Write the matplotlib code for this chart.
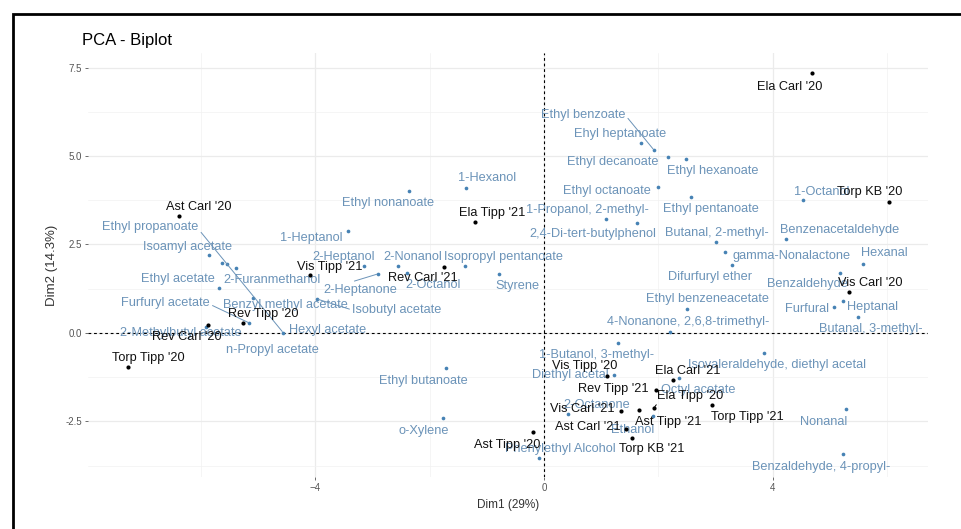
import matplotlib
matplotlib.use("Agg")
import matplotlib.pyplot as plt
from matplotlib.patches import Rectangle

plt.rcParams['font.family'] = ['Liberation Sans', 'DejaVu Sans']

# individuals (wine samples)
ind_names = ["Ela Carl '20", "Torp KB '20", "Vis Carl '20", "Ast Carl '20", "Vis Tipp '21",
             "Rev Tipp '20", "Rev Carl '20", "Torp Tipp '20", "Ela Tipp '21", "Rev Carl '21",
             "Vis Tipp '20", "Rev Tipp '21", "Ela Carl '21", "Ela Tipp '20", "Vis Carl '21",
             "Ast Tipp '21", "Ast Carl '21", "Torp KB '21", "Ast Tipp '20", "Torp Tipp '21"]
ind_x = [4.68, 6.03, 5.33, -6.38, -4.09, -5.26, -5.87, -7.27, -1.21, -1.75,
         1.10, 1.96, 2.25, 1.92, 1.34, 1.66, 1.43, 1.54, -0.19, 2.93]
ind_y = [7.34, 3.70, 1.16, 3.31, 1.64, 0.28, 0.23, -0.96, 3.14, 1.86,
         -1.21, -1.61, -1.33, -2.12, -2.20, -2.18, -2.71, -2.97, -2.80, -2.03]

# variables (volatile compounds)
var_names = ["Ethyl propanoate", "Isoamyl acetate", "Ethyl acetate", "2-Furanmethanol",
             "Furfuryl acetate", "Benzyl methyl acetate", "2-Methylbutyl acetate",
             "n-Propyl acetate", "Hexyl acetate", "Isobutyl acetate",
             "Ethyl nonanoate", "1-Hexanol", "1-Heptanol", "2-Heptanol", "2-Nonanol",
             "2-Heptanone", "2-Octanol", "Isopropyl pentanoate", "Styrene",
             "Ethyl butanoate", "o-Xylene", "Ethyl benzoate", "Ehyl heptanoate",
             "Ethyl decanoate", "Ethyl hexanoate", "Ethyl octanoate", "Ethyl pentanoate",
             "1-Propanol, 2-methyl-", "2,4-Di-tert-butylphenol", "Butanal, 2-methyl-",
             "gamma-Nonalactone", "Difurfuryl ether", "1-Octanol", "Benzenacetaldehyde",
             "Hexanal", "Benzaldehyde", "Furfural", "Heptanal", "Butanal, 3-methyl-",
             "Ethyl benzeneacetate", "4-Nonanone, 2,6,8-trimethyl-",
             "Isovaleraldehyde, diethyl acetal", "Nonanal", "Benzaldehyde, 4-propyl-",
             "1-Butanol, 3-methyl-", "Diethyl acetal", "Octyl acetate", "2-Octanone",
             "Ethanol", "Phenylethyl Alcohol"]
var_x = [-4.56, -5.85, -5.68, -5.38, -5.15, -5.08, -5.90, -5.54, -5.62, -3.97,
         -2.36, -1.36, -3.42, -3.14, -2.55, -2.90, -2.39, -1.38, -0.79,
         -1.71, -1.76, 1.92, 1.69, 2.17, 2.48, 1.99, 2.57,
         1.08, 1.62, 3.00, 3.16, 3.28, 4.52, 4.23,
         5.57, 5.17, 5.07, 5.22, 5.48, 2.50, 2.20,
         3.84, 5.28, 5.22, 1.29, 1.22, 2.36, 0.42, 1.90, -0.09]
var_y = [0.01, 2.20, 1.27, 1.84, 0.28, 0.99, 0.17, 1.95, 1.98, 0.96,
         4.01, 4.10, 2.88, 1.89, 1.89, 1.67, 1.69, 1.89, 1.67,
         -0.99, -2.40, 5.17, 5.37, 4.97, 4.92, 4.12, 3.84,
         3.22, 3.11, 2.57, 2.29, 1.92, 3.76, 2.66,
         1.95, 1.69, 0.73, 0.90, 0.45, 0.68, 0.03,
         -0.56, -2.15, -3.42, -0.28, -1.19, -1.27, -2.29, -2.34, -3.53]

# label placement in pixels from each point (what ggrepel did)
ind_offsets = [(-22, -14), (-19, 10), (21, 9), (20, 9), (20, 8),
               (20, 9), (-21, -12), (20, 9), (17, 9), (-21, -11),
               (-22, 10), (-43, 1), (15, 9), (36, 12), (-38, 2),
               (29, -12), (-38, 2), (20, -11), (-26, -13), (36, -12)]
var_offsets = [(-133, 106), (-22, 8), (-41, 9), (36, -12), (-84, 20), (32, -7), (-26, -6),
               (45, -86), (105, -67), (80, -11),
               (-21, -12), (21, 10), (-37, -7), (-21, 9), (15, 9),
               (-18, -16), (26, -12), (38, 9), (19, -12),
               (-23, -13), (-20, -13), (-71, 35), (-21, 9), (-55, -5), (27, -12), (-51, -4), (20, -12),
               (-18, 9), (-44, -11), (1, 9), (67, -4), (-22, -12), (19, 8), (54, 9),
               (22, 11), (-32, -11), (-27, -2), (30, -6), (13, -12), (20, 10), (18, 10),
               (13, -12), (-23, -13), (-22, -13), (-21, -12), (-44, 0), (19, -12), (29, 9),
               (-20, -14), (21, 9)]
# segment start on the label box (relative position), for labels pushed far away
var_leaders = {"Ethyl propanoate": (1, 0.3), "Furfuryl acetate": (1, 0.4),
               "Isobutyl acetate": (0, 0.5), "2-Heptanone": (0.3, 1),
               "Ethyl benzoate": (1, 0.5)}
ind_leaders = {"Ela Tipp '20": (0.05, 0.2)}

var_col = '#4682B4'
var_txt = '#6b93b8'

fig = plt.figure(figsize=(9.61, 5.29), dpi=100)
ax = fig.add_axes([88 / 961, 1 - 477 / 529, (928 - 88) / 961, (477 - 53) / 529])

ax.set_xlim(-7.97, 6.71)
ax.set_ylim(-4.07, 7.91)
ax.set_xticks([-4, 0, 4])
ax.set_yticks([-2.5, 0, 2.5, 5, 7.5])
ax.set_yticklabels(['-2.5', '0.0', '2.5', '5.0', '7.5'])
ax.set_xticks([-6, -2, 2, 6], minor=True)
ax.set_yticks([-3.75, -1.25, 1.25, 3.75, 6.25], minor=True)
ax.grid(True, which='major', color='#ebebeb', lw=0.9)
ax.grid(True, which='minor', color='#f2f2f2', lw=0.5)
ax.set_axisbelow(True)
for s in ax.spines.values():
    s.set_visible(False)
ax.tick_params(which='major', length=2.5, width=0.6, color='#555555',
               labelsize=7, labelcolor='#555555', pad=2)
ax.tick_params(which='minor', length=0)

ax.axhline(0, color='black', lw=0.8, ls=(0, (2.5, 2.5)), zorder=1)
ax.axvline(0, color='black', lw=0.8, ls=(0, (2.5, 2.5)), zorder=1)

# variables first, samples drawn on top
ax.scatter(var_x, var_y, s=7, color=var_col, zorder=3, linewidths=0)
for name, x, y, off in zip(var_names, var_x, var_y, var_offsets):
    kw = {}
    if name in var_leaders:
        kw['arrowprops'] = dict(arrowstyle='-', color=var_txt, lw=0.7, shrinkA=0, shrinkB=1,
                                relpos=var_leaders[name])
    ax.annotate(name, (x, y), xytext=off, textcoords='offset pixels', ha='center',
                va='center', fontsize=9.2, color=var_txt, zorder=4, **kw)

ax.scatter(ind_x, ind_y, s=9, color='black', zorder=5, linewidths=0)
for name, x, y, off in zip(ind_names, ind_x, ind_y, ind_offsets):
    kw = {}
    if name in ind_leaders:
        kw['arrowprops'] = dict(arrowstyle='-', color='black', lw=0.7, shrinkA=0, shrinkB=1,
                                relpos=ind_leaders[name])
    ax.annotate(name, (x, y), xytext=off, textcoords='offset pixels', ha='center',
                va='center', fontsize=9.2, color='#111111', zorder=6, **kw)

ax.set_xlabel('Dim1 (29%)', fontsize=8.5, color='#333333', labelpad=4)
ax.set_ylabel('Dim2 (14.3%)', fontsize=9.5, color='#333333', labelpad=5)
fig.text(82 / 961, 1 - 40 / 529, 'PCA - Biplot', fontsize=12, va='center', ha='left')

# screenshot frame
fig.add_artist(Rectangle((13 / 961, -0.05), 1.2, 1.05 - 14 / 529, fill=False,
                         lw=2, ec='black', transform=fig.transFigure))

fig.savefig('out.png', dpi=100)
